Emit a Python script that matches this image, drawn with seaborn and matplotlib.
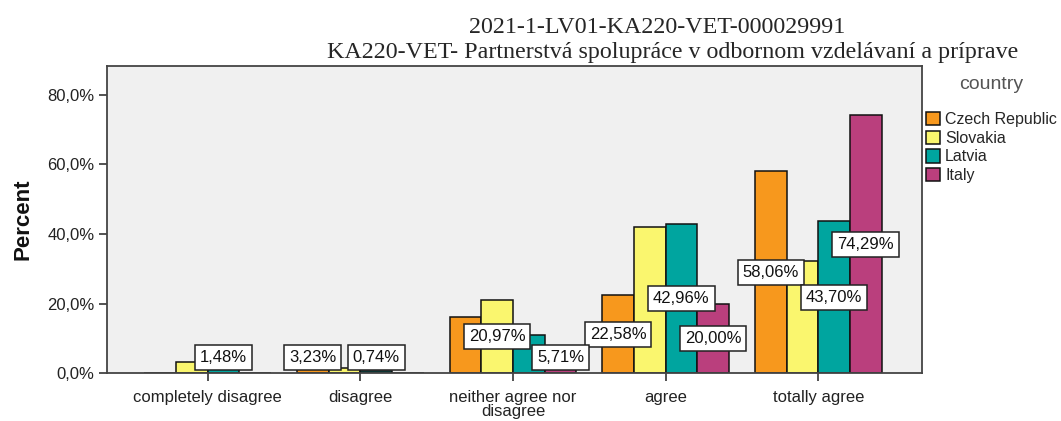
import numpy as np
import pandas as pd
import matplotlib
matplotlib.use('Agg')
import matplotlib.pyplot as plt
import seaborn as sns
from matplotlib.ticker import FuncFormatter

# answer categories and countries
categories = ['completely disagree', 'disagree', 'neither agree nor\ndisagree', 'agree', 'totally agree']
countries = ['Czech Republic', 'Slovakia', 'Latvia', 'Italy']

# percent of respondents per answer
czech = [0.0, 3.23, 16.13, 22.58, 58.06]
slovakia = [3.23, 1.61, 20.97, 41.94, 32.26]
latvia = [1.48, 0.74, 11.11, 42.96, 43.70]
italy = [0.0, 0.0, 5.71, 20.00, 74.29]

colors = ['#F7981D', '#FAF66E', '#00A59F', '#BA3F7D']

# only these bars got a value label in the original (the rest were dropped for overlap)
shown_labels = [
    ('completely disagree', 'Latvia'),
    ('disagree', 'Czech Republic'),
    ('disagree', 'Latvia'),
    ('neither agree nor\ndisagree', 'Slovakia'),
    ('neither agree nor\ndisagree', 'Italy'),
    ('agree', 'Czech Republic'),
    ('agree', 'Latvia'),
    ('agree', 'Italy'),
    ('totally agree', 'Czech Republic'),
    ('totally agree', 'Latvia'),
    ('totally agree', 'Italy'),
]

title_lines = ['2021-1-LV01-KA220-VET-000029991',
               'KA220-VET- Partnerstvá spolupráce v odbornom vzdelávaní a príprave']

rows = []
for country, vals in zip(countries, [czech, slovakia, latvia, italy]):
    for cat, v in zip(categories, vals):
        rows.append({'answer': cat, 'percent': v, 'country': country})
df = pd.DataFrame(rows)

sns.set_style('white')
plt.rcParams['font.family'] = ['Liberation Sans', 'DejaVu Sans']

fig = plt.figure(figsize=(10.61, 4.21), dpi=100)
ax = fig.add_axes([0.1008, 0.1133, 0.7682, 0.7299])
ax.set_facecolor('#F0F0F0')

sns.barplot(data=df, x='answer', y='percent', hue='country', order=categories,
            hue_order=countries, palette=colors, saturation=1, width=0.83,
            edgecolor='#111111', linewidth=1.1, errorbar=None, ax=ax)

# value labels in white boxes, centred on the bar at half height
for country, cont in zip(countries, ax.containers):
    for cat, p in zip(categories, cont.patches):
        if (cat, country) not in shown_labels:
            continue
        h = p.get_height()
        ax.text(p.get_x() + p.get_width() / 2, max(h / 2, 4.5),
                f'{h:.2f}%'.replace('.', ','), ha='center', va='center',
                fontsize=12, color='#111111', zorder=5,
                bbox=dict(boxstyle='square,pad=0.3', fc='white', ec='#222222', lw=1.1))

ax.set_xlim(-0.66, 4.68)
ax.set_ylim(0, 88.3)
ax.set_yticks([0, 20, 40, 60, 80])
ax.yaxis.set_major_formatter(FuncFormatter(lambda v, _: f'{v:.1f}%'.replace('.', ',')))
ax.tick_params(axis='both', direction='out', length=6, width=1.2, color='#333333',
               labelsize=12, labelcolor='#222222', left=True, bottom=True)
ax.tick_params(axis='x', pad=6)
ax.tick_params(axis='y', pad=3)
for t in ax.get_xticklabels():
    t.set_linespacing(0.95)
ax.set_xlabel('')
ax.set_ylabel('Percent', fontsize=16, fontweight='bold', color='#111111', labelpad=10)
for s in ax.spines.values():
    s.set_color('#444444')
    s.set_linewidth(1.3)

leg = ax.legend(title='country', loc='upper left', bbox_to_anchor=(1.0, 0.982),
                frameon=False, fontsize=11.5, title_fontsize=14,
                handlelength=0.9, handleheight=0.9, handletextpad=0.3,
                labelspacing=0.22, borderaxespad=0.0, borderpad=0.25)
leg.get_title().set_color('#555555')
leg._legend_box.sep = 14  # more room between "country" and the entries

fig.text(657 / 1061, 1 - 33 / 421, title_lines[0], ha='center', va='baseline',
         family='Liberation Serif', fontsize=17.3)
fig.text(673 / 1061, 1 - 58 / 421, title_lines[1], ha='center', va='baseline',
         family='Liberation Serif', fontsize=17.3)

fig.savefig('out.png', dpi=100)
